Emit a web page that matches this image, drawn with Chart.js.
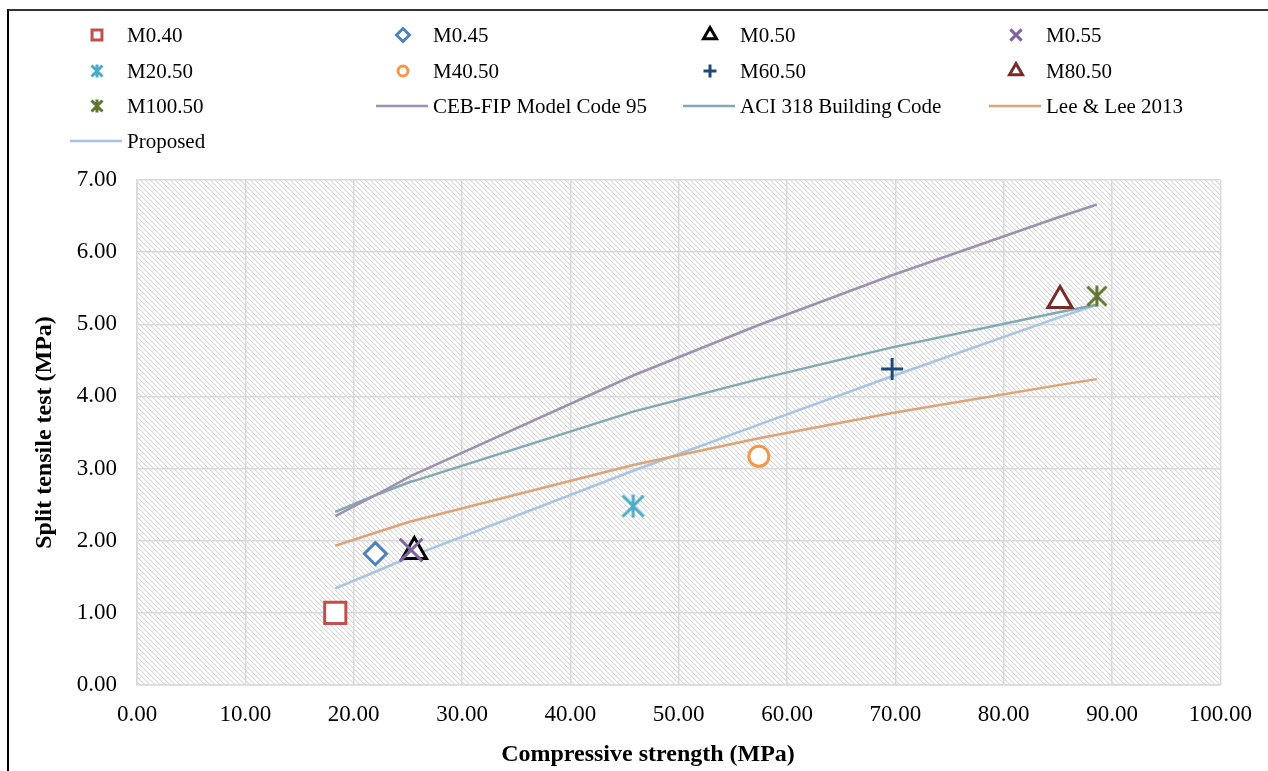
<!DOCTYPE html>
<html>
<head>
<meta charset="utf-8">
<script src="https://cdn.jsdelivr.net/npm/chart.js@4.4.1/dist/chart.umd.min.js"></script>
<style>
  html, body { margin: 0; padding: 0; background: #fff; }
  #wrap { position: relative; width: 1268px; height: 771px; overflow: hidden; }
  #frame { position: absolute; left: 7px; top: 9px; width: 1300px; height: 800px;
           border-left: 2px solid #000; border-top: 2px solid #333; pointer-events: none; }
</style>
</head>
<body>
<div id="wrap">
  <canvas id="splitChart" width="1268" height="771"></canvas>
  <div id="frame"></div>
</div>
<script>
// measured mixes
const mixes = ['M0.40', 'M0.45', 'M0.50', 'M0.55', 'M20.50', 'M40.50', 'M60.50', 'M80.50', 'M100.50'];
const strength = [18.3, 22.0, 25.6, 25.3, 45.8, 57.4, 69.7, 85.2, 88.6];
const tensile = [1.00, 1.82, 1.85, 1.87, 2.48, 3.17, 4.38, 5.33, 5.39];

// model curves, read at the mix strengths
const modelX = [18.3, 22.0, 25.3, 25.6, 45.8, 57.4, 69.7, 85.2, 88.6];
const cebFip = [2.34, 2.63, 2.90, 2.92, 4.29, 4.99, 5.68, 6.49, 6.66];
const aci318 = [2.40, 2.63, 2.82, 2.83, 3.79, 4.24, 4.68, 5.17, 5.27];
const leeLee = [1.93, 2.11, 2.27, 2.28, 3.05, 3.42, 3.77, 4.16, 4.24];
const proposed = [1.34, 1.57, 1.78, 1.80, 2.97, 3.61, 4.28, 5.10, 5.27];
const modelNames = ['CEB-FIP Model Code 95', 'ACI 318 Building Code', 'Lee & Lee 2013', 'Proposed'];

const xTicks = [0, 10, 20, 30, 40, 50, 60, 70, 80, 90, 100];
const yTicks = [0, 1, 2, 3, 4, 5, 6, 7];
const xTitle = 'Compressive strength (MPa)';
const yTitle = 'Split tensile test (MPa)';

function starMarker(color, size, lw) {
  const c = document.createElement('canvas');
  c.width = c.height = size;
  const g = c.getContext('2d');
  const m = size / 2, r = size / 2 - lw / 2;
  g.strokeStyle = color;
  g.lineWidth = lw;
  g.beginPath();
  g.moveTo(m - r, m - r); g.lineTo(m + r, m + r);
  g.moveTo(m + r, m - r); g.lineTo(m - r, m + r);
  g.moveTo(m, m - r - 1); g.lineTo(m, m + r + 1);
  g.stroke();
  return c;
}

const markerStyles = [
  { color: '#c0504d', style: 'rect', r: 15, lr: 7 },
  { color: '#4f81bd', style: 'rectRot', r: 11, lr: 6.5 },
  { color: '#000000', style: 'triangle', r: 14, lr: 7.5 },
  { color: '#8064a2', style: 'crossRot', r: 16, lr: 8 },
  { color: '#4bacc6', style: 'star', r: 11, lr: 7 },
  { color: '#f79646', style: 'circle', r: 10, lr: 5 },
  { color: '#1f497d', style: 'cross', r: 11, lr: 6.5 },
  { color: '#772c2a', style: 'triangle', r: 14, lr: 7.5 },
  { color: '#5f7530', style: 'star', r: 10, lr: 7 }
];
const lineColors = ['#9d91ad', '#82a9b2', '#dca477', '#a9c3e1'];

const datasets = [];
mixes.forEach(function(name, i) {
  const ms = markerStyles[i];
  const ps = ms.style === 'star' ? starMarker(ms.color, ms.r * 2 + 2, 3) : ms.style;
  ms.legendStyle = ms.style === 'star' ? starMarker(ms.color, 14, 3) : ms.style;
  datasets.push({
    label: name,
    data: [{ x: strength[i], y: tensile[i] }],
    showLine: false,
    pointStyle: ps,
    pointRadius: ms.r,
    pointBorderWidth: 3,
    pointBorderColor: ms.color,
    pointBackgroundColor: '#ffffff',
    order: -i
  });
});
[cebFip, aci318, leeLee, proposed].forEach(function(series, i) {
  datasets.push({
    label: modelNames[i],
    data: modelX.map(function(x, j) { return { x: x, y: series[j] }; }),
    showLine: true,
    borderColor: lineColors[i],
    borderWidth: 2.5,
    pointRadius: 0,
    order: 1
  });
});

const hatchPlugin = {
  id: 'hatch',
  beforeDraw: function(chart) {
    const ctx = chart.ctx, a = chart.chartArea;
    const tile = document.createElement('canvas');
    tile.width = tile.height = 5;
    const g = tile.getContext('2d');
    g.fillStyle = '#ffffff';
    g.fillRect(0, 0, 5, 5);
    for (let i = 0; i < 5; i++) {
      g.fillStyle = '#d8d8d8';
      g.fillRect(i, i, 1, 1);
      g.fillStyle = '#efefef';
      g.fillRect((i + 1) % 5, i, 1, 1);
    }
    ctx.save();
    ctx.fillStyle = ctx.createPattern(tile, 'repeat');
    ctx.fillRect(a.left, a.top, a.right - a.left, a.bottom - a.top);
    ctx.restore();
  }
};

const legendPlugin = {
  id: 'gridLegend',
  afterDraw: function(chart) {
    const ctx = chart.ctx;
    const cols = [127, 433, 740, 1046];
    const rows = [35, 71, 106, 141];
    ctx.save();
    ctx.font = '21px "Liberation Serif"';
    ctx.textBaseline = 'middle';
    ctx.textAlign = 'left';
    chart.data.datasets.forEach(function(ds, i) {
      const tx = cols[i % 4], ty = rows[Math.floor(i / 4)];
      if (i < mixes.length) {
        const ms = markerStyles[i];
        ctx.strokeStyle = ms.color;
        ctx.fillStyle = '#ffffff';
        ctx.lineWidth = 3;
        Chart.helpers.drawPoint(ctx, { pointStyle: ms.legendStyle, radius: ms.lr, rotation: 0, borderWidth: 3 }, tx - 30, ty);
      } else {
        ctx.strokeStyle = ds.borderColor;
        ctx.lineWidth = 2.5;
        ctx.beginPath();
        ctx.moveTo(tx - 57, ty);
        ctx.lineTo(tx - 5, ty);
        ctx.stroke();
      }
      ctx.fillStyle = '#000000';
      ctx.fillText(ds.label, tx, ty + 1);
    });
    // x axis title sits left of the plot centre in the original
    ctx.font = 'bold 24px "Liberation Serif"';
    ctx.textAlign = 'center';
    ctx.fillText(xTitle, 648, 755);
    ctx.restore();
  }
};

const tickFont = { family: '"Liberation Serif"', size: 23 };
const titleFont = { family: '"Liberation Serif"', size: 24, weight: 'bold' };
const gridStyle = { color: '#d9d9d9', lineWidth: 1.5, drawTicks: false };

const chart = new Chart(document.getElementById('splitChart').getContext('2d'), {
  type: 'scatter',
  data: { datasets: datasets },
  plugins: [hatchPlugin, legendPlugin],
  options: {
    responsive: false,
    animation: false,
    devicePixelRatio: 1,
    events: [],
    layout: { padding: { top: 180, right: 46, left: 0, bottom: 0 } },
    plugins: { legend: { display: false }, tooltip: { enabled: false } },
    scales: {
      x: {
        type: 'linear',
        min: 0, max: 100,
        afterFit: function(s) { s.height = 86; },
        afterBuildTicks: function(s) { s.ticks = xTicks.map(function(v) { return { value: v }; }); },
        ticks: { font: tickFont, color: '#000', padding: 16, maxRotation: 0,
                 callback: function(v) { return Number(v).toFixed(2); } },
        grid: gridStyle,
        border: { display: true, color: '#d9d9d9', width: 1.5 },
        title: { display: false }
      },
      y: {
        type: 'linear',
        min: 0, max: 7,
        afterFit: function(s) { s.width = 137; },
        afterBuildTicks: function(s) { s.ticks = yTicks.map(function(v) { return { value: v }; }); },
        ticks: { font: tickFont, color: '#000', padding: 20,
                 callback: function(v) { return Number(v).toFixed(2); } },
        grid: gridStyle,
        border: { display: true, color: '#d9d9d9', width: 1.5 },
        title: { display: true, text: yTitle, font: titleFont, color: '#000', padding: { top: 30, bottom: 0 } }
      }
    }
  }
});
</script>
</body>
</html>
